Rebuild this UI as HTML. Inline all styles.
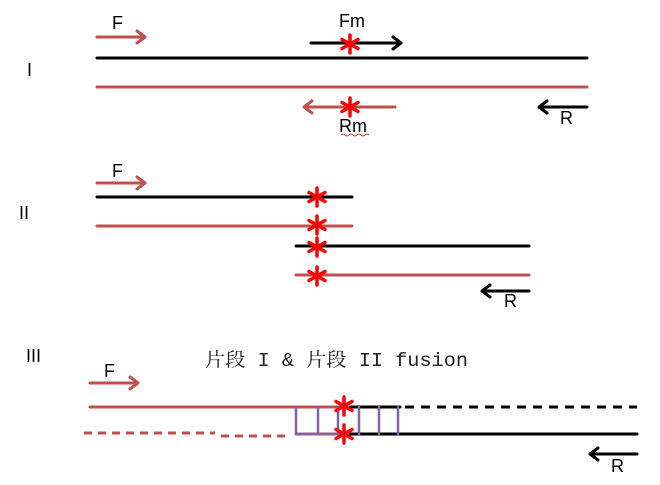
<!DOCTYPE html>
<html><head><meta charset="utf-8"><style>
html,body{margin:0;padding:0;background:#fff;}
svg{display:block;}
.lbl{font-family:"Liberation Sans",sans-serif;font-size:18px;fill:#000;}
</style></head><body>
<svg width="660" height="485" viewBox="0 0 660 485" xmlns="http://www.w3.org/2000/svg">
<defs>
<g id="st"><g stroke="#f00" stroke-width="3.5" stroke-linecap="round">
<line x1="0" y1="-9" x2="0" y2="9"/>
<line x1="-8" y1="-4.5" x2="8" y2="4.5"/>
<line x1="-8" y1="4.5" x2="8" y2="-4.5"/></g></g>
</defs>
<g fill="none" stroke-width="3" stroke-linecap="round" stroke-linejoin="round">
<path d="M97 37H145M137 31L145 37L137 43" stroke="#c0504d"/>
<line x1="97" y1="58" x2="587" y2="58" stroke="#000"/>
<line x1="97" y1="87" x2="587" y2="87" stroke="#c0504d"/>
<path d="M311 43H401M393 37L401 43L393 49" stroke="#000"/>
<path d="M395 107H304M312 101L304 107L312 113" stroke="#c0504d"/>
<path d="M587 107H539M547 101L539 107L547 113" stroke="#000"/>
<path d="M97 183H145M137 177L145 183L137 189" stroke="#c0504d"/>
<line x1="97" y1="197" x2="352" y2="197" stroke="#000"/>
<line x1="97" y1="226" x2="352" y2="226" stroke="#c0504d"/>
<line x1="296" y1="246" x2="529" y2="246" stroke="#000"/>
<line x1="296" y1="275" x2="529" y2="275" stroke="#c0504d"/>
<path d="M529 291H482M490 285L482 291L490 297" stroke="#000"/>
<path d="M90 383H138M130 377L138 383L130 389" stroke="#c0504d"/>
<line x1="90" y1="407" x2="340" y2="407" stroke="#c0504d"/>
<line x1="350" y1="407" x2="400" y2="407" stroke="#000"/>
<line x1="405" y1="407" x2="637" y2="407" stroke="#000" stroke-dasharray="9 7" stroke-linecap="butt"/>
<line x1="84" y1="433" x2="215" y2="433" stroke="#c0504d" stroke-dasharray="8 6" stroke-linecap="butt"/>
<line x1="221" y1="436" x2="290" y2="436" stroke="#c0504d" stroke-dasharray="8 6" stroke-linecap="butt"/>
<line x1="296" y1="434" x2="340" y2="434" stroke="#c0504d"/>
<line x1="350" y1="434" x2="637" y2="434" stroke="#000"/>
<g stroke="#8064a2" stroke-width="2.5">
<path d="M296 407V434H340"/>
<line x1="318" y1="407" x2="318" y2="434"/>
<line x1="338" y1="407" x2="338" y2="434"/>
<line x1="359" y1="407" x2="359" y2="434"/>
<line x1="379" y1="407" x2="379" y2="434"/>
<line x1="398" y1="407" x2="398" y2="434"/>
</g>
<path d="M637 454H590M598 448L590 454L598 460" stroke="#000"/>
</g>
<use href="#st" x="350" y="44"/>
<use href="#st" x="350" y="107"/>
<use href="#st" x="317" y="197"/>
<use href="#st" x="317" y="225"/>
<use href="#st" x="317" y="247"/>
<use href="#st" x="317" y="276"/>
<use href="#st" x="344" y="406"/>
<use href="#st" x="344" y="434"/>
<text class="lbl" x="112" y="29">F</text>
<text class="lbl" x="339" y="27">Fm</text>
<text class="lbl" x="339" y="132">Rm</text>
<path d="M341 135q2-2 4 0t4 0t4 0t4 0t4 0t4 0t4 0" stroke="#c00" stroke-width="0.8" fill="none"/>
<text class="lbl" x="560" y="124">R</text>
<text class="lbl" x="27" y="76">I</text>
<text class="lbl" x="112" y="177">F</text>
<text class="lbl" x="504" y="307">R</text>
<text class="lbl" x="19" y="219">II</text>
<text class="lbl" x="104" y="377">F</text>
<text class="lbl" x="611" y="472">R</text>
<text class="lbl" x="26" y="362">III</text>
<text x="205" y="366" font-family="'Liberation Mono','Noto Serif CJK SC',monospace" font-size="19" fill="#222" textLength="263" lengthAdjust="spacingAndGlyphs">片段 I &amp; 片段 II fusion</text>
</svg>
</body></html>
